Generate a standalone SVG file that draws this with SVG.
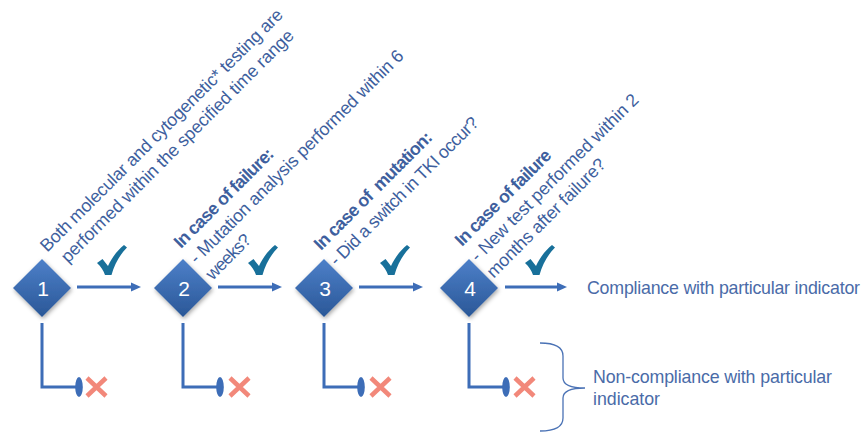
<svg xmlns="http://www.w3.org/2000/svg" xmlns:xlink="http://www.w3.org/1999/xlink" width="864" height="437" viewBox="0 0 864 437">
<defs>
<style>
.lbl{font-family:"Liberation Sans",Arial,sans-serif;font-size:17.8px;fill:#3E5F9E;}
.b{font-weight:bold;}
.out{font-family:"Liberation Sans",Arial,sans-serif;font-size:17.8px;fill:#4A6BA8;}
.num{font-family:"Liberation Sans",Arial,sans-serif;font-size:21px;fill:#FFFFFF;text-anchor:middle;}
.dia{fill:url(#dg);filter:url(#sh);}
.arr{stroke:#3D6DB7;stroke-width:3;fill:none;marker-end:url(#ah);}
.fail{stroke:#3D6DB7;stroke-width:3;fill:none;stroke-linejoin:miter;marker-end:url(#ov);}
.chk{fill:#18709A;}
.x{stroke:#F2887A;stroke-width:4.5;fill:none;}
.brace{stroke:#4A72B5;stroke-width:1.3;fill:none;}
</style>
<linearGradient id="dg" x1="0" y1="0" x2="0" y2="1">
<stop offset="0" stop-color="#4D80C9"/>
<stop offset="1" stop-color="#2A5797"/>
</linearGradient>
<filter id="sh" x="-30%" y="-30%" width="160%" height="160%">
<feDropShadow dx="1" dy="2" stdDeviation="2" flood-color="#000" flood-opacity="0.35"/>
</filter>
<marker id="ah" markerUnits="userSpaceOnUse" markerWidth="12" markerHeight="12" viewBox="0 -6 12 12" refX="1" refY="0" orient="auto">
<path d="M0,-4.5 L10,0 L0,4.5 Z" fill="#3D6DB7"/>
</marker>
<marker id="ov" markerUnits="userSpaceOnUse" markerWidth="12" markerHeight="24" viewBox="-6 -12 12 24" refX="-3" refY="0" orient="auto">
<ellipse cx="0" cy="0" rx="3.8" ry="10" fill="#3D6DB7"/>
</marker>
<path id="check" class="chk" d="M0,18 L5.5,14 L11,21 C15,12 21,5 27,0 L30,2.5 C23,9.5 17.5,19 14.5,30 L8,30 C6.5,25.5 4,21.5 0,18 Z"/>
<path id="cross" class="x" d="M2,2 L21,20 M21,2 L2,20"/>
</defs>

<g id="connectors">
<line class="arr" x1="77" y1="287" x2="132" y2="287"/>
<line class="arr" x1="218" y1="287" x2="273" y2="287"/>
<line class="arr" x1="359" y1="287" x2="414" y2="287"/>
<line class="arr" x1="505" y1="287" x2="558" y2="287"/>
<path class="fail" d="M42,323 V387 H76"/>
<path class="fail" d="M183,323 V387 H217"/>
<path class="fail" d="M324,323 V387 H358"/>
<path class="fail" d="M469,323 V387 H503"/>
</g>

<g id="checks">
<use xlink:href="#check" x="97" y="245"/>
<use xlink:href="#check" x="248" y="245"/>
<use xlink:href="#check" x="380" y="245"/>
<use xlink:href="#check" x="525" y="245"/>
</g>

<g id="crosses">
<use xlink:href="#cross" x="85" y="376"/>
<use xlink:href="#cross" x="228" y="376"/>
<use xlink:href="#cross" x="369" y="376"/>
<use xlink:href="#cross" x="513" y="376"/>
</g>

<g id="node-1">
<polygon class="dia" points="42,259 71,288 42,317 13,288"/>
<text class="num" x="43" y="295.5">1</text>
</g>
<g id="node-2">
<polygon class="dia" points="183,259 212,288 183,317 154,288"/>
<text class="num" x="184" y="295.5">2</text>
</g>
<g id="node-3">
<polygon class="dia" points="324,259 353,288 324,317 295,288"/>
<text class="num" x="325" y="295.5">3</text>
</g>
<g id="node-4">
<polygon class="dia" points="469,259 498,288 469,317 440,288"/>
<text class="num" x="470" y="295.5">4</text>
</g>

<g id="label-1" transform="translate(165.6,134.4) rotate(-45)">
<text class="lbl" x="0" y="0" text-anchor="middle" textLength="335">Both molecular and cytogenetic* testing are</text>
<text class="lbl" x="0" y="22.4" text-anchor="middle" textLength="321">performed within the specified time range</text>
</g>
<g id="label-2" transform="translate(181,249) rotate(-45)">
<text class="lbl b" x="0" y="0" textLength="133">In case of failure:</text>
<text class="lbl" x="0" y="22.4" textLength="294">- Mutation analysis performed within 6</text>
<text class="lbl" x="0" y="44.8" textLength="56">weeks?</text>
</g>
<g id="label-3" transform="translate(321,251) rotate(-45)">
<text class="lbl b" x="0" y="0" textLength="159">In case of&#160; mutation:</text>
<text class="lbl" x="0" y="22.4" textLength="202">- Did a switch in TKI occur?</text>
</g>
<g id="label-4" transform="translate(462,247) rotate(-45)">
<text class="lbl b" x="0" y="0" textLength="128">In case of failure</text>
<text class="lbl" x="0" y="22.4" textLength="229">- New test performed within 2</text>
<text class="lbl" x="0" y="44.8" textLength="160">months after failure?</text>
</g>

<g id="outcome-compliance">
<text class="out" x="587" y="294" textLength="273">Compliance with particular indicator</text>
</g>
<g id="outcome-noncompliance">
<path class="brace" d="M540,343 Q563,343 563,356 L563,378 Q563,388 585,388 Q563,388 563,398 L563,418 Q563,431 540,431"/>
<text class="out" x="593" y="383" textLength="239">Non-compliance with particular</text>
<text class="out" x="593" y="405" textLength="67">indicator</text>
</g>
</svg>
